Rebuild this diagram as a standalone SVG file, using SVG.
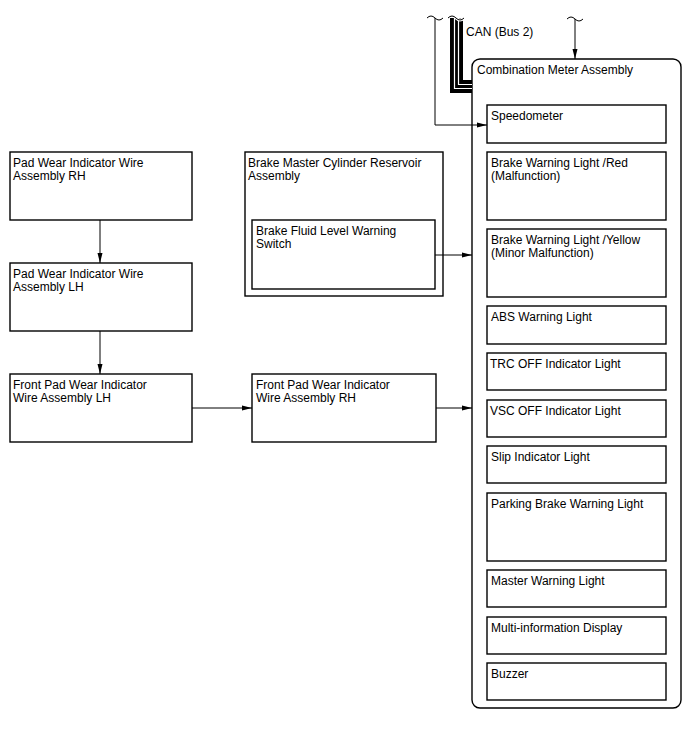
<svg xmlns="http://www.w3.org/2000/svg" width="688" height="755" viewBox="0 0 688 755">
<style>
.box{fill:#fff;stroke:#000;stroke-width:1.4}
.t{font-family:"Liberation Sans",Arial,sans-serif;font-size:12px;fill:#000}
.ln{fill:none;stroke:#000;stroke-width:1}
</style>
<defs>
<marker id="ah" markerWidth="10" markerHeight="6" refX="10" refY="3" orient="auto" markerUnits="userSpaceOnUse">
<path d="M0,0.5 L10,3 L0,5.5 Z" fill="#000"/>
</marker>
</defs>
<rect width="688" height="755" fill="#fff"/>

<g id="combination-meter">
<rect class="box" x="472" y="59" width="209" height="649" rx="8"/>
<text class="t" x="477" y="74">Combination Meter Assembly</text>
</g>
<g id="speedometer"><rect class="box" x="487" y="105" width="179" height="38"/><text class="t" x="491" y="120">Speedometer</text></g>
<g id="brake-red"><rect class="box" x="487" y="152" width="179" height="68"/><text class="t" x="491" y="167">Brake Warning Light /Red</text><text class="t" x="491" y="180">(Malfunction)</text></g>
<g id="brake-yellow"><rect class="box" x="487" y="229" width="179" height="68"/><text class="t" x="491" y="244">Brake Warning Light /Yellow</text><text class="t" x="491" y="257">(Minor Malfunction)</text></g>
<g id="abs"><rect class="box" x="487" y="306" width="179" height="38"/><text class="t" x="491" y="321">ABS Warning Light</text></g>
<g id="trc"><rect class="box" x="487" y="353" width="179" height="37"/><text class="t" x="490" y="368">TRC OFF Indicator Light</text></g>
<g id="vsc"><rect class="box" x="487" y="400" width="179" height="37"/><text class="t" x="490" y="415">VSC OFF Indicator Light</text></g>
<g id="slip"><rect class="box" x="487" y="446" width="179" height="37"/><text class="t" x="491" y="461">Slip Indicator Light</text></g>
<g id="parking"><rect class="box" x="487" y="493" width="179" height="68"/><text class="t" x="491" y="508">Parking Brake Warning Light</text></g>
<g id="master"><rect class="box" x="487" y="570" width="179" height="37"/><text class="t" x="491" y="585">Master Warning Light</text></g>
<g id="multi"><rect class="box" x="487" y="617" width="179" height="37"/><text class="t" x="491" y="632">Multi-information Display</text></g>
<g id="buzzer"><rect class="box" x="487" y="663" width="179" height="37"/><text class="t" x="491" y="678">Buzzer</text></g>

<g id="pad-rh"><rect class="box" x="10" y="152" width="182" height="68"/><text class="t" x="13" y="167">Pad Wear Indicator Wire</text><text class="t" x="13" y="180">Assembly RH</text></g>
<g id="pad-lh"><rect class="box" x="10" y="263" width="182" height="68"/><text class="t" x="13" y="278">Pad Wear Indicator Wire</text><text class="t" x="13" y="291">Assembly LH</text></g>
<g id="front-lh"><rect class="box" x="10" y="374" width="182" height="68"/><text class="t" x="13" y="389">Front Pad Wear Indicator</text><text class="t" x="13" y="402">Wire Assembly LH</text></g>
<g id="front-rh"><rect class="box" x="252" y="374" width="184" height="68"/><text class="t" x="256" y="389">Front Pad Wear Indicator</text><text class="t" x="256" y="402">Wire Assembly RH</text></g>
<g id="reservoir"><rect class="box" x="245" y="152" width="198" height="144"/><text class="t" x="248" y="167">Brake Master Cylinder Reservoir</text><text class="t" x="248" y="180">Assembly</text></g>
<g id="fluid-switch"><rect class="box" x="252" y="220" width="183" height="69"/><text class="t" x="256" y="235">Brake Fluid Level Warning</text><text class="t" x="256" y="248">Switch</text></g>

<g id="connectors">
<line class="ln" x1="100" y1="220" x2="100" y2="263" marker-end="url(#ah)"/>
<line class="ln" x1="100" y1="331" x2="100" y2="374" marker-end="url(#ah)"/>
<line class="ln" x1="192" y1="408" x2="252" y2="408" marker-end="url(#ah)"/>
<line class="ln" x1="436" y1="408" x2="472" y2="408" marker-end="url(#ah)"/>
<line class="ln" x1="435" y1="255" x2="472" y2="255" marker-end="url(#ah)"/>
<path class="ln" d="M435,18 V125 H487" marker-end="url(#ah)"/>
<path class="ln" d="M427,18 q4,-4 8,0 t8,0"/>
<line class="ln" x1="575" y1="19" x2="575" y2="59" marker-end="url(#ah)"/>
<path class="ln" d="M567,19 q4,-4 8,0 t8,0"/>
<path d="M456.5,18 V86.5 H472" fill="none" stroke="#000" stroke-width="13" stroke-linejoin="miter"/>
<path d="M454.5,18 V88.5 H472" fill="none" stroke="#fff" stroke-width="1.2"/>
<path d="M458.5,18 V84.5 H472" fill="none" stroke="#fff" stroke-width="1.2"/>
<path d="M448,18 q4,-4 8,0 t8,0" fill="none" stroke="#fff" stroke-width="3"/>
<path d="M448,18 q4,-4 8,0 t8,0" fill="none" stroke="#000" stroke-width="1"/>
<text class="t" x="466" y="36">CAN (Bus 2)</text>
</g>
</svg>
